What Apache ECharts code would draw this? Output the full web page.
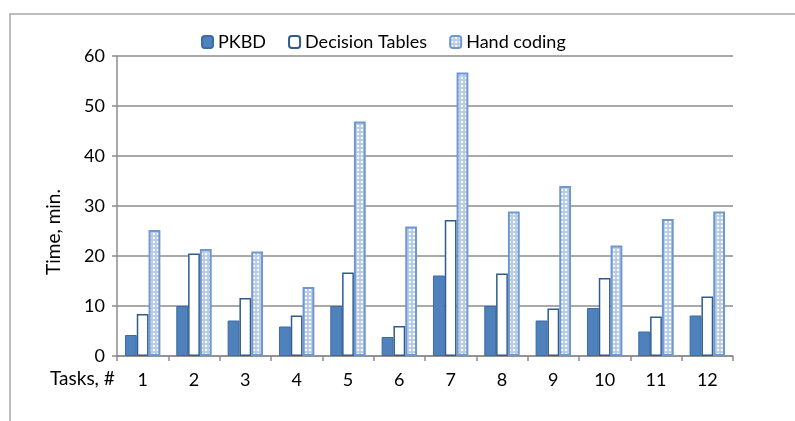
<!DOCTYPE html>
<html>
<head>
<meta charset="utf-8">
<script src="https://cdn.jsdelivr.net/npm/echarts@6/dist/echarts.min.js"></script>
<style>
  html, body { margin: 0; padding: 0; background: #fff; }
  #chart { width: 795px; height: 421px; }
</style>
</head>
<body>
<div id="chart"></div>
<script>
// chart data
var tasks = ['1', '2', '3', '4', '5', '6', '7', '8', '9', '10', '11', '12'];
var pkbd = [4.2, 10, 7.1, 5.9, 10, 3.8, 16.1, 10, 7.1, 9.6, 4.9, 8.1];
var decisionTables = [8.4, 20.5, 11.6, 8.1, 16.7, 6.0, 27.2, 16.5, 9.5, 15.6, 7.9, 11.9];
var handCoding = [25.2, 21.4, 20.9, 13.8, 46.9, 25.9, 56.7, 28.9, 34.0, 22.1, 27.4, 28.9];

// dotted fill for hand coding bars
function makeDots() {
  var c = document.createElement('canvas');
  c.width = 4;
  c.height = 4;
  var ctx = c.getContext('2d');
  ctx.fillStyle = '#b9cde9';
  ctx.fillRect(0, 0, 4, 4);
  ctx.fillStyle = '#ffffff';
  ctx.fillRect(1, 1, 2, 2);
  return c;
}
var dots = { image: makeDots(), repeat: 'repeat' };

var font = 'Lato, "Open Sans", sans-serif';
var chart = echarts.init(document.getElementById('chart'));

var option = {
  animation: false,
  textStyle: { fontFamily: font },
  legend: {
    top: 28,
    left: 196,
    itemWidth: 11,
    itemHeight: 12,
    itemGap: 22,
    textStyle: { fontSize: 18, color: '#000', fontFamily: font },
    data: ['PKBD', 'Decision Tables', 'Hand coding']
  },
  grid: { left: 117, right: 62, top: 56, bottom: 65 },
  xAxis: {
    type: 'category',
    data: tasks,
    axisLine: { lineStyle: { color: '#8c8c8c', width: 1.5 } },
    axisTick: { show: true, length: 5, lineStyle: { color: '#8c8c8c', width: 1.5 } },
    axisLabel: { fontSize: 18, color: '#000', margin: 15, fontFamily: font }
  },
  yAxis: {
    type: 'value',
    min: 0,
    max: 60,
    interval: 10,
    axisLine: { show: true, lineStyle: { color: '#8c8c8c', width: 1.5 } },
    axisTick: { show: true, length: 5, lineStyle: { color: '#8c8c8c', width: 1.5 } },
    axisLabel: { fontSize: 18, color: '#000', margin: 12, fontFamily: font },
    splitLine: { lineStyle: { color: '#8c8c8c', width: 1.5 } }
  },
  series: [
    {
      name: 'PKBD',
      type: 'bar',
      data: pkbd,
      barGap: '0%',
      barCategoryGap: '31%',
      itemStyle: { color: '#4f81bd', borderColor: '#3c6ca6', borderWidth: 1 }
    },
    {
      name: 'Decision Tables',
      type: 'bar',
      data: decisionTables,
      itemStyle: { color: '#ffffff', borderColor: '#2f5b8f', borderWidth: 1.5 }
    },
    {
      name: 'Hand coding',
      type: 'bar',
      data: handCoding,
      itemStyle: { color: dots, borderColor: '#6f98d0', borderWidth: 2 }
    }
  ],
  graphic: [
    // outer frame (left and top only visible)
    {
      type: 'polyline',
      shape: { points: [[10, 421], [10, 14], [795, 14]] },
      style: { stroke: '#a6a6a6', lineWidth: 1.5, fill: null }
    },
    {
      type: 'text',
      x: 54,
      y: 232,
      rotation: Math.PI / 2,
      style: {
        text: 'Time, min.', font: '19px ' + font, fill: '#000',
        align: 'center', verticalAlign: 'middle'
      }
    },
    {
      type: 'text',
      left: 50,
      top: 369,
      style: { text: 'Tasks, #', font: '19px ' + font, fill: '#000' }
    }
  ]
};
chart.setOption(option);
</script>
</body>
</html>
